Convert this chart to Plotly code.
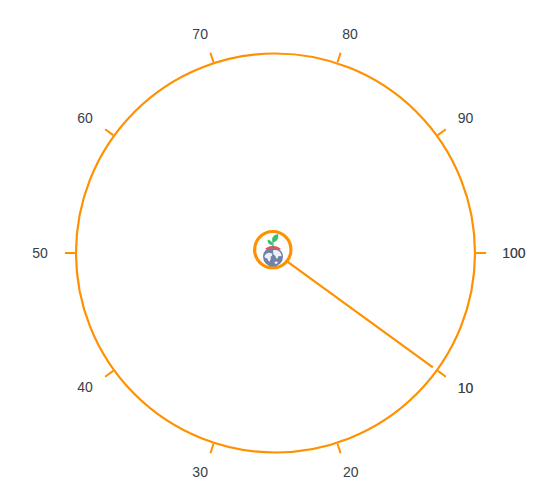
import base64
import plotly.graph_objects as go

tick_values = [10, 20, 30, 40, 50, 60, 70, 80, 90, 100]
tick_labels = ["10", "20", "30", "40", "50", "60", "70", "80", "90", "100"]
needle_value = 10
axis_max = 100

ORANGE = "#ff9000"
W, H = 556, 492
MARGIN = 8  # page body margin offsets everything
CX, CY, R = 275.5 - MARGIN, 253.0 - MARGIN, 199.5
LABEL_SCALE = 1.2
LABEL_DY = 1.2

def deg(v):
    return v / axis_max * 360

label_radius = [1.168, 1.16, 1.16, 1.168, 1.18, 1.168, 1.16, 1.16, 1.168, 1.195]
label_theta = [35.4, 71.0, 109.0, 144.8, 180, 215.2, 251.0, 288.8, 324.6, 360]

icon_svg = f"""<svg xmlns='http://www.w3.org/2000/svg' width='240' height='240' viewBox='0 0 40 40'>
<circle cx='20' cy='20' r='18.2' fill='white' stroke='{ORANGE}' stroke-width='3.2'/>
<circle cx='20.2' cy='27' r='10' fill='#6f83a8'/>
<path d='M12.4 18.8 Q20 13.4 28 18.8 L26.6 20 Q20 17.8 13.8 20 Z' fill='#e8505f'/>
<path d='M11.6 27 q0.8 -3.4 4.4 -4 l3.4 0.8 q0.6 2.2 -1.6 3.2 q0.6 2.6 -1.2 5 q-1.6 -1 -2 -3.2 q-2.4 -0.2 -3 -1.8 Z' fill='#eef0f4'/>
<path d='M20.2 20.6 q4.4 -1.2 7 1.6 q1.8 2.6 1.4 4.4 l-2.8 -0.4 l-1.2 2.8 q-1.8 -0.4 -2 -2.8 q-2.6 -1 -2.4 -5.6 Z' fill='#eef0f4'/>
<path d='M21.6 32.4 q2 -1.2 3.6 0 q-0.6 2 -2.6 2.2 Z' fill='#eef0f4'/>
<path d='M20 17.5 Q20 15 20.4 12.5' stroke='#3e9a57' stroke-width='1' fill='none'/>
<path d='M19.6 13 Q17.6 5.6 25.4 4.4 Q26.6 11.6 19.6 13 Z' fill='#35c06a'/>
<path d='M20 15.4 Q19.6 10.6 14.8 10 Q14.4 15 20 15.4 Z' fill='#35c06a'/>
</svg>"""
icon_src = "data:image/svg+xml;base64," + base64.b64encode(icon_svg.encode()).decode()

label_font = dict(family="Liberation Sans, Arial, sans-serif", size=14, color="#3a4048")

fig = go.Figure()
fig.add_trace(go.Scatterpolar(
    r=[0, 0.975], theta=[deg(needle_value), deg(needle_value)],
    mode="lines", line=dict(color=ORANGE, width=2.2),
    hoverinfo="skip", showlegend=False, subplot="polar",
))
fig.add_trace(go.Scatterpolar(
    r=label_radius, theta=label_theta,
    mode="text", text=tick_labels, textposition="middle center",
    textfont=label_font, hoverinfo="skip", showlegend=False, subplot="polar2",
))
# the reference draws the first and last labels twice, so they look darker
fig.add_trace(go.Scatterpolar(
    r=[label_radius[0], label_radius[-1]], theta=[label_theta[0], label_theta[-1]],
    mode="text", text=[tick_labels[0], tick_labels[-1]], textposition="middle center",
    textfont=label_font, opacity=0.6, hoverinfo="skip", showlegend=False, subplot="polar2",
))

def domain(radius, dy=0.0):
    return dict(x=[(CX - radius) / W, (CX + radius) / W],
                y=[1 - (CY + dy + radius) / H, 1 - (CY + dy - radius) / H])

fig.update_layout(
    width=W, height=H,
    margin=dict(l=0, r=0, t=0, b=0),
    paper_bgcolor="white",
    showlegend=False,
    polar=dict(
        domain=domain(R),
        bgcolor="white",
        radialaxis=dict(range=[0, 1], visible=False),
        angularaxis=dict(
            direction="clockwise", rotation=0,
            tickmode="array", tickvals=[deg(v) for v in tick_values],
            ticktext=tick_labels, showticklabels=False,
            ticks="outside", ticklen=10, tickwidth=2, tickcolor=ORANGE,
            showline=True, linecolor=ORANGE, linewidth=2.2, showgrid=False,
        ),
    ),
    polar2=dict(
        domain=domain(R * LABEL_SCALE, LABEL_DY),
        bgcolor="rgba(0,0,0,0)",
        radialaxis=dict(range=[0, LABEL_SCALE], visible=False),
        angularaxis=dict(direction="clockwise", rotation=0, visible=False),
    ),
    images=[dict(
        source=icon_src, xref="paper", yref="paper",
        x=(272.8 - MARGIN - 20) / W, y=1 - (249.7 - MARGIN - 20) / H,
        sizex=40 / W, sizey=40 / H,
        xanchor="left", yanchor="top", sizing="stretch", layer="above",
    )],
)
fig.write_html("out.html", config={"displayModeBar": False})
